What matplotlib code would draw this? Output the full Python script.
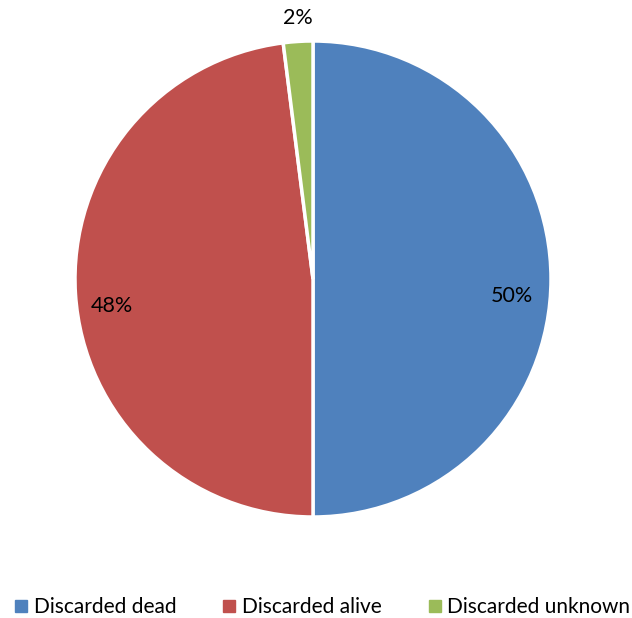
import matplotlib.pyplot as plt
from matplotlib.lines import Line2D

plt.rcParams['font.family'] = ['Lato', 'DejaVu Sans']

categories = ['Discarded dead', 'Discarded alive', 'Discarded unknown']
shares = [50, 48, 2]
pct_labels = ['50%', '48%', '2%']
colors = ['#4F81BD', '#C0504D', '#9BBB59']

# label anchors (pie units, centre 0,0 radius 1)
label_pos = [(0.836, -0.071), (-0.845, -0.113), (-0.063, 1.097)]

fig = plt.figure(figsize=(6.32, 6.18), dpi=100)
ax = fig.add_axes([0, 0, 1, 1])

wedges, _ = ax.pie(shares, colors=colors, startangle=90, counterclock=False,
                   radius=1.0, wedgeprops=dict(edgecolor='white', linewidth=2.5))

for txt, (x, y) in zip(pct_labels, label_pos):
    ax.text(x, y, txt, ha='center', va='center', fontsize=15.5, color='black')

ax.set_xlim(-313 / 238, (632 - 313) / 238)
ax.set_ylim((279 - 618) / 238, 279 / 238)
ax.set_aspect('auto')
ax.axis('off')

handles = [Line2D([], [], marker='s', linestyle='none', markersize=8,
                  markerfacecolor=c, markeredgecolor=c) for c in colors]
fig.legend(handles, categories, loc='center', ncol=3,
           bbox_to_anchor=(321 / 632, 1 - 607 / 618), frameon=False,
           fontsize=15, handletextpad=0.15, columnspacing=2.1, handlelength=0.9)

fig.savefig('out.png', dpi=100)
